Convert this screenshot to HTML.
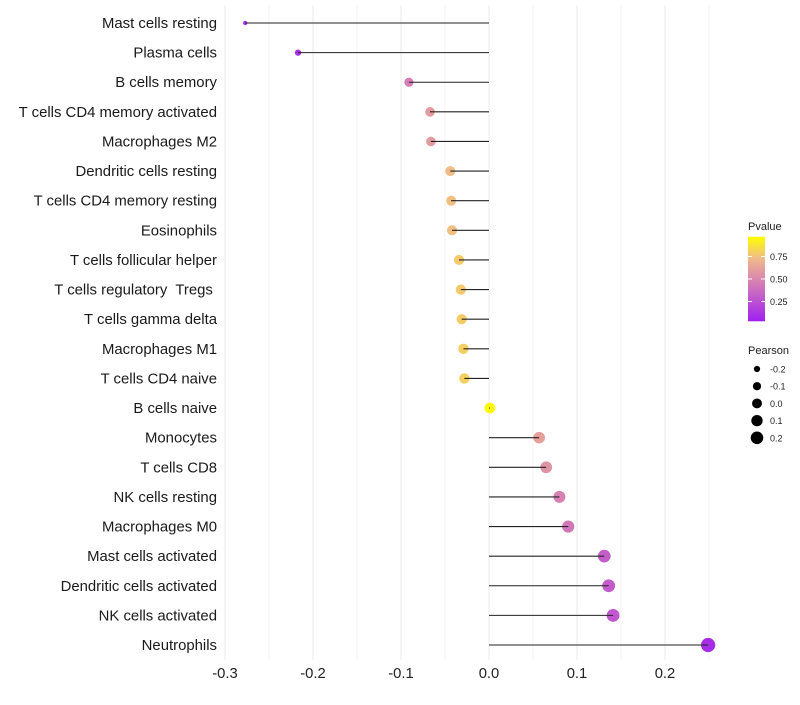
<!DOCTYPE html>
<html><head><meta charset="utf-8"><style>
body{margin:0;background:#fff;font-family:"Liberation Sans",sans-serif;}
text{white-space:pre;}
</style></head><body>
<svg id="c" width="800" height="700"></svg>
<script>
const categories=["Mast cells resting","Plasma cells","B cells memory","T cells CD4 memory activated","Macrophages M2","Dendritic cells resting","T cells CD4 memory resting","Eosinophils","T cells follicular helper","T cells regulatory  Tregs ","T cells gamma delta","Macrophages M1","T cells CD4 naive","B cells naive","Monocytes","T cells CD8","NK cells resting","Macrophages M0","Mast cells activated","Dendritic cells activated","NK cells activated","Neutrophils"];
const pearson=[-0.277,-0.217,-0.091,-0.067,-0.066,-0.044,-0.043,-0.042,-0.034,-0.032,-0.031,-0.029,-0.028,0.001,0.057,0.065,0.080,0.090,0.131,0.136,0.141,0.249];
const pvalues=[0.04,0.08,0.45,0.6,0.6,0.75,0.76,0.76,0.8,0.8,0.81,0.82,0.82,0.99,0.62,0.56,0.47,0.42,0.3,0.29,0.27,0.06];
const xTicks=[-0.3,-0.2,-0.1,0.0,0.1,0.2];
const xTickLabels=["-0.3","-0.2","-0.1","0.0","0.1","0.2"];
const legendP=[0.25,0.5,0.75];
const legendSizes=[-0.2,-0.1,0.0,0.1,0.2];

const NS="http://www.w3.org/2000/svg";
const svg=document.getElementById('c');
function el(t,a,p){const e=document.createElementNS(NS,t);for(const k in a)e.setAttribute(k,a[k]);(p||svg).appendChild(e);return e;}
const x=v=>489+v*880;
const y=i=>23+i*(622/(categories.length-1));
const r=v=>Math.sqrt(Math.max(2,29+88*v));
function col(p){const s=[[0,[160,32,240]],[0.5,[218,135,175]],[0.75,[240,188,135]],[1,[255,255,0]]];
 for(let i=1;i<s.length;i++){if(p<=s[i][0]){const t=(p-s[i-1][0])/(s[i][0]-s[i-1][0]);const a=s[i-1][1],b=s[i][1];return `rgb(${a.map((c,j)=>Math.round(c+(b[j]-c)*t)).join(',')})`;}}return 'rgb(255,255,0)';}
for(let v=-0.3;v<=0.25;v+=0.05){const g=el('line',{x1:x(v),x2:x(v),y1:5,y2:660,stroke:'#ebebeb','stroke-width':Math.abs(Math.round(v*100))%10==0?1:0.6});
}
xTicks.forEach((v,i)=>{const t=el('text',{x:x(v),y:678,'text-anchor':'middle','font-size':14.8,fill:'#222'});t.textContent=xTickLabels[i];
});
categories.forEach((c,i)=>{
 const t=el('text',{x:217,y:y(i)+5,'text-anchor':'end','font-size':14.9,fill:'#1a1a1a'});t.textContent=c;
 
 const d=el('circle',{cx:x(pearson[i]),cy:y(i),r:r(pearson[i]),fill:col(pvalues[i])});
 
 const l=el('line',{x1:x(0),x2:x(pearson[i]),y1:y(i),y2:y(i),stroke:'#222','stroke-width':1.1});
 
});
const defs=el('defs',{});const lg=el('linearGradient',{id:'g',x1:0,y1:1,x2:0,y2:0},defs);
[0,0.25,0.5,0.75,1].forEach(p=>el('stop',{offset:p,'stop-color':col(p)},lg));
let t=el('text',{x:748,y:230,'font-size':11,fill:'#222'});t.textContent='Pvalue';

const py=p=>324-p*90;
const bar=el('rect',{x:748,y:py(0.97),width:17,height:py(0.03)-py(0.97),fill:'url(#g)'});

legendP.forEach(p=>{el('line',{x1:748,x2:752,y1:py(p),y2:py(p),stroke:'#fff'});el('line',{x1:761,x2:765,y1:py(p),y2:py(p),stroke:'#fff'});
 const tt=el('text',{x:770,y:py(p)+3.5,'font-size':9,fill:'#222'});tt.textContent=p.toFixed(2);
 });
t=el('text',{x:748,y:354,'font-size':11,fill:'#222'});t.textContent='Pearson';

legendSizes.forEach((v,i)=>{const cy=369+i*17.2;
 const c=el('circle',{cx:757,cy:cy,r:r(v)*0.92,fill:'#000'});
 
 const tt=el('text',{x:770,y:cy+3.5,'font-size':9,fill:'#222'});tt.textContent=v.toFixed(1);
 });
</script>
</body></html>
